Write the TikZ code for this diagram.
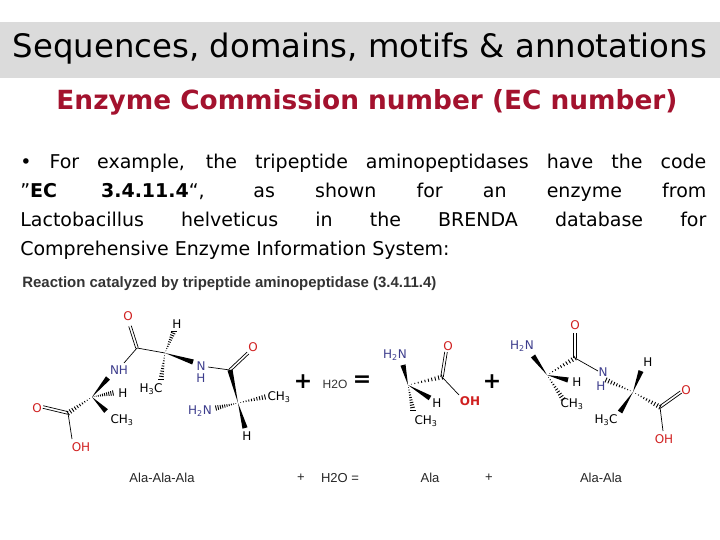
\documentclass[tikz,border=0pt]{standalone}
\usepackage{fontspec}
\setmainfont{DejaVu Sans}
\newfontfamily\arl{Liberation Sans}
\usetikzlibrary{calc}
\definecolor{ttl}{HTML}{A3122E}
\definecolor{nblue}{HTML}{3C3C8C}
\definecolor{ored}{HTML}{D02020}
\newcommand\wdg[2]{\fill (#1) -- ($(#2)!2.6pt!90:(#1)$) -- ($(#2)!2.6pt!-90:(#1)$) -- cycle;}
\newcommand\hsh[2]{\foreach \t in {0.1,0.2,...,1.0}{\draw[line width=0.9pt] ($(#1)!\t!(#2)!{\t*2.6pt}!90:(#2)$) -- ($(#1)!\t!(#2)!{\t*2.6pt}!-90:(#2)$);}}
\newcommand\dbl[2]{\draw ($(#1)!1.3pt!90:(#2)$) -- ($(#2)!1.3pt!-90:(#1)$); \draw ($(#1)!1.3pt!-90:(#2)$) -- ($(#2)!1.3pt!90:(#1)$);}
\tikzset{atm/.style={font=\fontsize{12}{12}\selectfont,inner sep=0pt},
 nn/.style={atm,text=nblue}, oo/.style={atm,text=ored},
 lbl/.style={font=\arl\fontsize{13}{13}\selectfont,inner sep=0pt,text=black!85}}
\begin{document}
\begin{tikzpicture}[x=1pt,y=-1pt,line width=0.7pt]
\useasboundingbox (0,0) rectangle (720,540);
\fill[black!14] (0,22) rectangle (720,78);
\node (title) at (360,49) {\resizebox{694pt}{!}{\fontsize{28}{28}\selectfont Sequences, domains, motifs \& annotations}};
\node[text=ttl] (sub) at (367,102) {\resizebox{621pt}{!}{\fontsize{22}{22}\selectfont\bfseries Enzyme Commission number (EC number)}};
\node[anchor=north west,inner sep=0pt,align=left,font=\fontsize{19}{29}\selectfont] (body) at (20,154) {%
\makebox[686pt][s]{• For example, the tripeptide aminopeptidases have the code}\\
\makebox[686pt][s]{\char34\textbf{EC 3.4.11.4}“, as shown for an enzyme from}\\
\makebox[686pt][s]{Lactobacillus helveticus in the BRENDA database for}\\
Comprehensive Enzyme Information System:};
\node[anchor=west,inner sep=0pt,text=black!80] (rx) at (22,284) {\resizebox{414pt}{!}{\arl\fontsize{14}{14}\selectfont\bfseries Reaction catalyzed by tripeptide aminopeptidase (3.4.11.4)}};
% ---------- molecule 1
\coordinate (c1) at (137,348); \coordinate (o1) at (130,326);
\coordinate (a2) at (165,353); \coordinate (h2) at (174,331);
\coordinate (nh1) at (124,363); \coordinate (n2) at (193,362);
\coordinate (me2) at (161,379); \coordinate (n2b) at (208,367);
\coordinate (c3) at (230,370); \coordinate (o3) at (248,353);
\coordinate (a3) at (238,403); \coordinate (me3) at (265,397);
\coordinate (am3) at (216,408); \coordinate (h3) at (245,428);
\coordinate (a1) at (92,397); \coordinate (n1) at (108,378);
\coordinate (h1) at (113,393); \coordinate (me1) at (106,411);
\coordinate (cc1) at (68,413); \coordinate (oc1) at (43,407); \coordinate (oh1) at (72,439);
\node[oo] (lo1) at (128,316) {O};
\node[atm] (lh2) at (177,324) {H};
\node[nn] (lnh1) at (119,370) {NH};
\node[nn] (ln2) at (201,366) {N};
\node[nn] (lh2n) at (201,378) {H};
\node[atm] (lme2) at (151,389) {H\textsubscript{3}C};
\node[oo] (lo3) at (253,347) {O};
\node[atm] (lme3) at (279,397) {CH\textsubscript{3}};
\node[nn] (lam3) at (200,411) {H\textsubscript{2}N};
\node[atm] (lh3) at (247,436) {H};
\node[atm] (lh1) at (123,393) {H};
\node[atm] (lme1) at (122,420) {CH\textsubscript{3}};
\node[oo] (loc1) at (37,408) {O};
\node[oo] (loh1) at (81,447) {OH};
\dbl{c1}{o1} \hsh{a2}{h2} \draw (c1) -- (nh1); \draw (c1) -- (a2);
\wdg{a2}{n2} \hsh{a2}{me2} \draw (n2b) -- (c3); \dbl{c3}{o3}
\wdg{a3}{c3} \hsh{a3}{me3} \hsh{a3}{am3} \wdg{a3}{h3}
\wdg{a1}{n1} \hsh{a1}{h1} \wdg{a1}{me1} \hsh{a1}{cc1} \dbl{cc1}{oc1} \draw (cc1) -- (oh1);
\node[font=\bfseries\fontsize{22}{22}\selectfont,inner sep=0pt] (p1) at (303,382) {+};
\node[font=\arl\fontsize{12}{12}\selectfont,inner sep=0pt,text=black!80] (w1) at (335,384) {H2O};
\node[font=\bfseries\fontsize{22}{22}\selectfont,inner sep=0pt] (eq1) at (362,381) {=};
% ---------- molecule 2
\coordinate (b1) at (408,385); \coordinate (bn) at (403,365);
\coordinate (bc) at (442,377); \coordinate (bo) at (446,352); \coordinate (boh) at (459,395);
\coordinate (bh) at (430,398); \coordinate (bme) at (413,410);
\node[nn] (lbn) at (395,355) {H\textsubscript{2}N};
\node[oo] (lbo) at (448,346) {O};
\node[oo,font=\bfseries\fontsize{12}{12}\selectfont] (lboh) at (470,401) {OH};
\node[atm] (lbh) at (437,403) {H};
\node[atm] (lbme) at (426,421) {CH\textsubscript{3}};
\wdg{b1}{bn} \hsh{b1}{bc} \dbl{bc}{bo} \draw (bc) -- (boh); \wdg{b1}{bh} \hsh{b1}{bme}
\node[font=\bfseries\fontsize{22}{22}\selectfont,inner sep=0pt] (p2) at (492,382) {+};
% ---------- molecule 3
\coordinate (d1) at (547,375); \coordinate (dn) at (533,356);
\coordinate (dc) at (575,358); \coordinate (do) at (575,333);
\coordinate (dnn) at (598,371); \coordinate (dh) at (568,380); \coordinate (dme) at (563,399);
\coordinate (d2) at (633,392); \coordinate (dnb) at (606,380); \coordinate (dh2) at (641,371);
\coordinate (dme2) at (620,412); \coordinate (dcc) at (660,407);
\coordinate (dco) at (681,392); \coordinate (doh) at (663,431);
\node[nn] (ldn) at (522,346) {H\textsubscript{2}N};
\node[oo] (ldo) at (575,325) {O};
\node[nn] (ldnn) at (603,372) {N};
\node[nn] (ldnh) at (601,386) {H};
\node[atm] (ldh) at (577,382) {H};
\node[atm] (ldme) at (572,404) {CH\textsubscript{3}};
\node[atm] (ldh2) at (648,362) {H};
\node[atm] (ldme2) at (606,420) {H\textsubscript{3}C};
\node[oo] (ldco) at (686,390) {O};
\node[oo] (ldoh) at (664,439) {OH};
\wdg{d1}{dn} \hsh{d1}{dc} \dbl{dc}{do} \draw (dc) -- (dnn); \wdg{d1}{dh} \hsh{d1}{dme}
\hsh{d2}{dnb} \wdg{d2}{dh2} \wdg{d2}{dme2} \hsh{d2}{dcc} \dbl{dcc}{dco} \draw (dcc) -- (doh);
% ---------- bottom labels
\node[lbl] (n1) at (162,478) {Ala-Ala-Ala};
\node[lbl] (n2) at (301,478) {+};
\node[lbl] (n3) at (340,478) {H2O =};
\node[lbl] (n4) at (430,478) {Ala};
\node[lbl] (n5) at (489,478) {+};
\node[lbl] (n6) at (601,478) {Ala-Ala};
\end{tikzpicture}
\end{document}
